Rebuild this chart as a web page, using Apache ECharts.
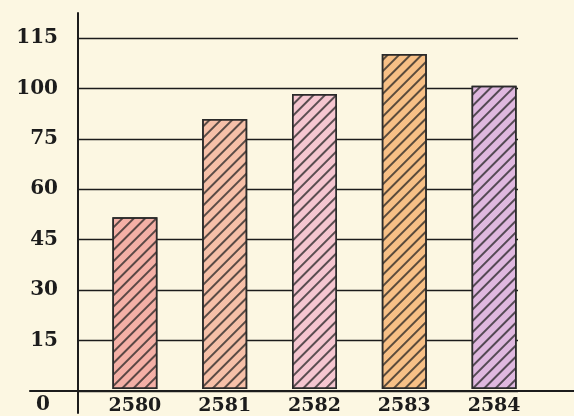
<!DOCTYPE html>
<html>
<head>
<meta charset="utf-8">
<script src="https://cdn.jsdelivr.net/npm/echarts@6/dist/echarts.min.js"></script>
<style>
html,body{margin:0;padding:0;background:#fcf7e2;}
#c{width:574px;height:416px;}
</style>
</head>
<body>
<div id="c"></div>
<script>
const categories = ['2580', '2581', '2582', '2583', '2584'];
const values = [51.5, 81, 88.5, 100.5, 91];
const barColors = ['#f4b0a6', '#f6c0a8', '#f5c6d0', '#f7c086', '#dfb8df'];
const tickLabels = ['0', '15', '30', '45', '60', '75', '100', '115'];

const chart = echarts.init(document.getElementById('c'));
const font = '"DejaVu Serif", serif';
const ink = '#1c1c1c';

chart.setOption({
  backgroundColor: '#fcf7e2',
  aria: { enabled: true, decal: { show: true } },
  animation: false,
  grid: [
    { left: 90, right: 35, top: 38, bottom: 24 },
    { left: 78, right: 56, top: 38, bottom: 25 },
    { left: 78, width: 10, top: 13, bottom: 3 },
    { left: 30, right: 0, top: 300, bottom: 25 }
  ],
  xAxis: [
    {
      gridIndex: 0, type: 'category', data: categories,
      axisLine: { show: false }, axisTick: { show: false },
      axisLabel: { color: ink, fontFamily: font, fontWeight: 'bold', fontSize: 19, margin: 8 }
    },
    { gridIndex: 1, type: 'value', show: false },
    { gridIndex: 2, type: 'value', show: false },
    {
      gridIndex: 3, type: 'value', min: 0, max: 1,
      axisLine: { show: true, lineStyle: { color: ink, width: 2.2 } },
      axisTick: { show: false }, axisLabel: { show: false }, splitLine: { show: false }
    }
  ],
  yAxis: [
    { gridIndex: 0, type: 'value', min: 0, max: 105.3, show: false },
    {
      gridIndex: 1, type: 'value', min: 0, max: 105, interval: 15,
      axisLine: { show: false }, axisTick: { show: false },
      splitLine: { show: true, lineStyle: { color: ink, width: 1.4 } },
      axisLabel: {
        color: ink, fontFamily: font, fontWeight: 'bold', fontSize: 20, margin: 20,
        formatter: function (v) {
          const i = Math.round(v / 15);
          if (i === 0) return '{z|' + tickLabels[0] + '}';
          return tickLabels[i];
        },
        rich: {
          z: { color: ink, fontFamily: font, fontWeight: 'bold', fontSize: 20, padding: [28, 8, 0, 0] }
        }
      }
    },
    {
      gridIndex: 2, type: 'value', min: 0, max: 1,
      axisLine: { show: true, lineStyle: { color: ink, width: 2 } },
      axisTick: { show: false }, axisLabel: { show: false }, splitLine: { show: false }
    },
    { gridIndex: 3, type: 'value', show: false }
  ],
  series: [{
    type: 'bar',
    xAxisIndex: 0, yAxisIndex: 0,
    barWidth: 45,
    data: values.map((v, i) => ({
      value: v,
      itemStyle: {
        color: barColors[i],
        borderColor: '#2a2a2a',
        borderWidth: 1.5,
        decal: {
          symbol: 'rect',
          color: 'rgba(30,30,30,0.72)',
          backgroundColor: null,
          dashArrayX: [1, 0],
          dashArrayY: [1.2, 6],
          rotation: -Math.PI / 4
        }
      }
    }))
  }]
});
</script>
</body>
</html>
